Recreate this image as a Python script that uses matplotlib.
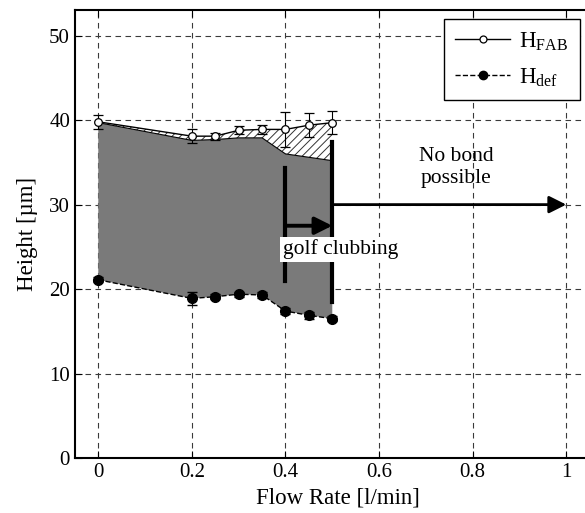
import matplotlib as mpl
import matplotlib.pyplot as plt
from matplotlib.lines import Line2D

# measured heights vs. flow rate
flow = [0, 0.2, 0.25, 0.3, 0.35, 0.4, 0.45, 0.5]
h_fab = [39.8, 38.1, 38.1, 38.8, 38.9, 38.9, 39.4, 39.7]
h_fab_err = [0.8, 0.8, 0.4, 0.5, 0.5, 2.1, 1.4, 1.4]
h_def = [21.1, 18.9, 19.1, 19.4, 19.3, 17.4, 16.9, 16.5]
h_def_err = [0.3, 0.8, 0.3, 0.3, 0.3, 0.4, 0.4, 0.3]
# upper edge of the bonded (grey) zone
h_bond = [39.7, 37.6, 37.7, 37.9, 37.9, 36.0, 35.6, 35.2]

mpl.rcParams['font.family'] = ['Liberation Serif', 'DejaVu Serif']
mpl.rcParams['mathtext.fontset'] = 'custom'
mpl.rcParams['mathtext.rm'] = 'Liberation Serif'
mpl.rcParams['hatch.linewidth'] = 0.7

fig = plt.figure(figsize=(5.85, 5.13), dpi=100)
# right spine runs just past the edge of the image
ax = fig.add_axes([0.128, 0.107, 0.9, 0.873])

ax.fill_between(flow, h_def, h_bond, facecolor='#7a7a7a', edgecolor='none', zorder=1)
ax.fill_between(flow, h_bond, h_fab, facecolor='white', hatch='////',
                edgecolor='#333333', linewidth=0, zorder=1)
ax.plot(flow, h_bond, color='black', lw=0.8, zorder=2)

ax.errorbar(flow, h_fab, yerr=h_fab_err, color='black', lw=1.0, marker='o',
            ms=5.5, mfc='white', mec='black', mew=0.9, capsize=3.5, elinewidth=0.8, zorder=3)
ax.errorbar(flow, h_def, yerr=h_def_err, color='black', lw=1.0, ls='--', marker='o',
            ms=7, mfc='black', mec='black', capsize=3.5, elinewidth=0.8, zorder=3)

# golf clubbing / bond limit markers
ax.plot([0.4, 0.4], [21.0, 34.3], color='black', lw=3, zorder=3)
ax.plot([0.5, 0.5], [18.5, 37.4], color='black', lw=3, zorder=3)
ax.annotate('', xy=(0.5, 27.5), xytext=(0.4, 27.5),
            arrowprops=dict(arrowstyle='-|>', lw=2.8, color='black', mutation_scale=26,
                            shrinkA=0, shrinkB=0), zorder=4)
ax.annotate('', xy=(1.0, 30), xytext=(0.5, 30),
            arrowprops=dict(arrowstyle='-|>', lw=2.0, color='black', mutation_scale=26,
                            shrinkA=0, shrinkB=0), zorder=4)
ax.text(0.517, 24.7, 'golf clubbing', fontsize=15.5, ha='center', va='center',
        bbox=dict(facecolor='white', edgecolor='none', pad=2), zorder=5)
ax.text(0.765, 34.4, 'No bond\npossible', fontsize=15.5, ha='center', va='center',
        linespacing=1.25, zorder=5)

ax.set_xlim(-0.05, 1.075)
ax.set_ylim(0, 53)
ax.set_xticks([0, 0.2, 0.4, 0.6, 0.8, 1])
ax.set_xticklabels(['0', '0.2', '0.4', '0.6', '0.8', '1'])
ax.set_yticks([0, 10, 20, 30, 40, 50])
ax.tick_params(direction='in', length=5, labelsize=15, top=True, right=True)
ax.grid(True, ls='--', color='#3a3a3a', lw=0.8, dashes=(5, 4))
ax.set_axisbelow(True)
for s in ax.spines.values():
    s.set_linewidth(1.5)

ax.set_xlabel('Flow Rate [l/min]', fontsize=16.5, labelpad=4)
ax.set_ylabel('Height [µm]', fontsize=16.5, labelpad=8)

handles = [Line2D([], [], color='black', lw=1.0, marker='o', ms=5, mfc='white', mew=0.9),
           Line2D([], [], color='black', lw=1.0, ls='--', marker='o', ms=6, mfc='black')]
leg = ax.legend(handles, [r'H$_{\rm FAB}$', r'H$_{\rm def}$'], loc='upper right',
                bbox_to_anchor=(580 / 585, 1 - 19 / 513), bbox_transform=fig.transFigure,
                fontsize=16.5, handlelength=2.4, handletextpad=0.4, fancybox=False,
                edgecolor='black', framealpha=1, borderaxespad=0, labelspacing=0.55,
                borderpad=0.5)
leg.get_frame().set_linewidth(1.0)

fig.savefig('out.png', dpi=100)
